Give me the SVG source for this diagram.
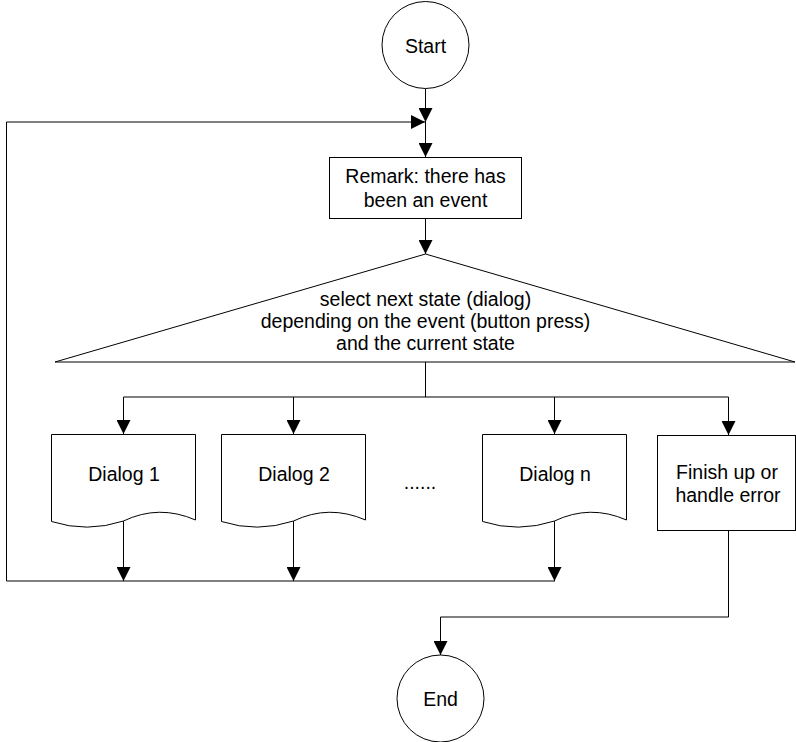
<svg xmlns="http://www.w3.org/2000/svg" width="796" height="742" viewBox="0 0 796 742">
  <style>
    .shape { fill: #ffffff; stroke: #000000; stroke-width: 1; }
    .wire { fill: none; stroke: #000000; stroke-width: 1; }
    .label { font-family: "Liberation Sans", Arial, sans-serif; font-size: 19.5px; fill: #000000; text-anchor: middle; }
  </style>
  <defs>
    <marker id="arrow" viewBox="0 0 14 14" refX="14" refY="7" markerWidth="14" markerHeight="14" markerUnits="userSpaceOnUse" orient="auto">
      <path d="M0,0 L14,7 L0,14 Z" fill="#000000"/>
    </marker>
  </defs>
  <rect width="796" height="742" fill="#ffffff"/>

  <!-- connectors -->
  <g id="connectors">
    <path class="wire" d="M425.5,88.5 V122" marker-end="url(#arrow)"/>
    <path class="wire" d="M555,581 H6.5 V122 H425" marker-end="url(#arrow)"/>
    <path class="wire" d="M425.5,122 V157" marker-end="url(#arrow)"/>
    <path class="wire" d="M425.5,219 V254" marker-end="url(#arrow)"/>
    <path class="wire" d="M425.5,362 V397"/>
    <path class="wire" d="M123.5,397 H728.5"/>
    <path class="wire" d="M123.5,397 V434" marker-end="url(#arrow)"/>
    <path class="wire" d="M293.5,397 V434" marker-end="url(#arrow)"/>
    <path class="wire" d="M554.5,397 V434" marker-end="url(#arrow)"/>
    <path class="wire" d="M728.5,397 V435" marker-end="url(#arrow)"/>
    <path class="wire" d="M123.5,521 V581" marker-end="url(#arrow)"/>
    <path class="wire" d="M293.5,521 V581" marker-end="url(#arrow)"/>
    <path class="wire" d="M554.5,521 V581" marker-end="url(#arrow)"/>
    <path class="wire" d="M728.5,531 V617 H440.5 V655" marker-end="url(#arrow)"/>
  </g>

  <g id="start">
    <circle class="shape" cx="425.5" cy="45" r="43.5"/>
    <text class="label" x="425.5" y="53">Start</text>
  </g>

  <g id="remark">
    <rect class="shape" x="329.5" y="157.5" width="192" height="61"/>
    <text class="label" x="425.5" y="183">Remark: there has</text>
    <text class="label" x="425.5" y="207">been an event</text>
  </g>

  <g id="select">
    <path class="shape" d="M425.5,254 L795,362 L55,362 Z"/>
    <text class="label" x="425.5" y="306">select next state (dialog)</text>
    <text class="label" x="425.5" y="328">depending on the event (button press)</text>
    <text class="label" x="425.5" y="350">and the current state</text>
  </g>

  <g id="dialog1">
    <path class="shape" d="M51.5,434.5 H195.5 V520 Q159,504 123.5,521 Q87,533 51.5,521.5 Z"/>
    <text class="label" x="124" y="481">Dialog 1</text>
  </g>

  <g id="dialog2">
    <path class="shape" d="M221.5,434.5 H365.5 V520 Q329,504 293.5,521 Q257,533 221.5,521.5 Z"/>
    <text class="label" x="294" y="481">Dialog 2</text>
  </g>

  <g id="ellipsis">
    <text class="label" x="420" y="489">......</text>
  </g>

  <g id="dialogn">
    <path class="shape" d="M482.5,434.5 H626.5 V520 Q590,504 554.5,521 Q518,533 482.5,521.5 Z"/>
    <text class="label" x="555" y="481">Dialog n</text>
  </g>

  <g id="finish">
    <rect class="shape" x="657.5" y="435.5" width="138" height="95"/>
    <text class="label" x="727" y="479">Finish up or</text>
    <text class="label" x="728" y="501.5">handle error</text>
  </g>

  <g id="end">
    <circle class="shape" cx="440.5" cy="698.5" r="43.5"/>
    <text class="label" x="440.5" y="706">End</text>
  </g>
</svg>
